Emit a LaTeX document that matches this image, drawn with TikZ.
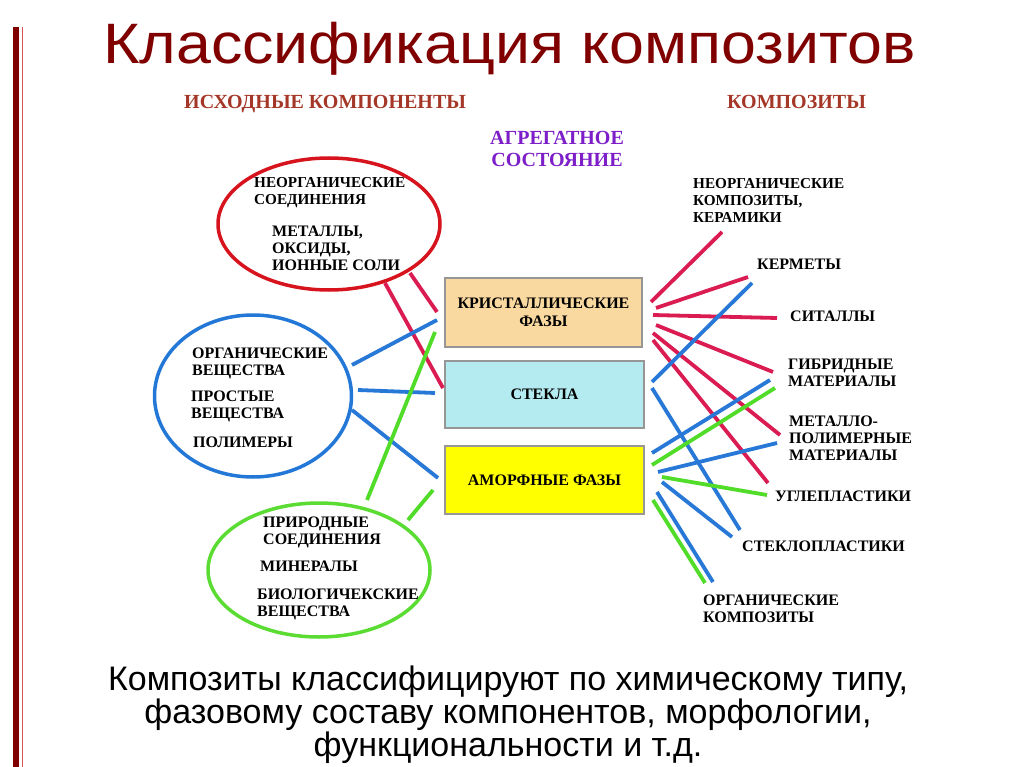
\documentclass[tikz,border=0pt]{standalone}
\usepackage{fontspec}
\setmainfont{Liberation Serif}
\newfontfamily\arialf{Liberation Sans}
\usetikzlibrary{shapes.geometric}
\definecolor{barred}{RGB}{128,0,0}
\definecolor{barpink}{RGB}{220,80,80}
\definecolor{titlered}{RGB}{128,0,0}
\definecolor{headbrown}{RGB}{165,55,40}
\definecolor{aggpurple}{RGB}{125,30,200}
\definecolor{lred}{RGB}{218,28,82}
\definecolor{lblue}{RGB}{40,120,215}
\definecolor{lgreen}{RGB}{80,220,40}
\definecolor{ered}{RGB}{215,20,30}
\definecolor{eblue}{RGB}{35,120,215}
\definecolor{egreen}{RGB}{90,220,50}
\definecolor{fillA}{RGB}{250,217,160}
\definecolor{fillB}{RGB}{180,235,240}
\definecolor{fillC}{RGB}{255,255,0}
\definecolor{boxgray}{RGB}{150,150,150}
\tikzset{
  lbl/.style={font=\fontsize{16}{17}\selectfont\bfseries, align=left, anchor=north west, inner sep=0pt, text=black},
  lblsm/.style={lbl, font=\fontsize{15.2}{17}\selectfont\bfseries},
  ell/.style={ellipse, draw, line width=3.5pt, inner sep=0pt},
  phase/.style={rectangle, draw=boxgray, line width=1.2pt, font=\fontsize{16}{18}\selectfont\bfseries, align=center, inner sep=0pt},
  conn/.style={line width=3.8pt},
  head/.style={font=\fontsize{20}{22}\selectfont\bfseries, text=headbrown, anchor=base west, inner sep=0pt},
}
\begin{document}
\begin{tikzpicture}[x=1pt,y=-1pt]
\useasboundingbox (0,0) rectangle (1024,767);
\fill[white] (0,0) rectangle (1024,767);
% left bars
\fill[barred] (13,27) rectangle (19,767);
\draw[barpink, line width=1pt] (22,27) -- (22,767);
% title
\node[anchor=base west, inner sep=0pt, text=titlered, font=\arialf\fontsize{57}{64}\selectfont] (title) at (103,64) {\scalebox{1.1}[1]{Классификация композитов}};
% headers
\node[head] (hsrc) at (184,108.5) {ИСХОДНЫЕ КОМПОНЕНТЫ};
\node[head] (hcomp) at (727,108.5) {КОМПОЗИТЫ};
\node[font=\fontsize{20}{22}\selectfont\bfseries, text=aggpurple, align=center, anchor=north, inner sep=0pt] (hagg) at (557,131.5) {АГРЕГАТНОЕ\\СОСТОЯНИЕ};
% ellipses
\node[ell, draw=ered, minimum width=222pt, minimum height=132pt] (einorg) at (329,224) {};
\node[ell, draw=eblue, minimum width=197pt, minimum height=162pt] (eorg) at (253,396) {};
\node[ell, draw=egreen, minimum width=222pt, minimum height=134pt] (enat) at (319,570) {};
% ellipse texts
\node[lblsm] (t1) at (254,177) {НЕОРГАНИЧЕСКИЕ\\СОЕДИНЕНИЯ};
\node[lbl] (t2) at (272,225.7) {МЕТАЛЛЫ,\\ОКСИДЫ,\\ИОННЫЕ СОЛИ};
\node[lbl] (t3) at (192,347.7) {ОРГАНИЧЕСКИЕ\\ВЕЩЕСТВА};
\node[lbl] (t4) at (191,391.2) {ПРОСТЫЕ\\ВЕЩЕСТВА};
\node[lbl] (t5) at (193,436.7) {ПОЛИМЕРЫ};
\node[lbl] (t6) at (263,517.2) {ПРИРОДНЫЕ\\СОЕДИНЕНИЯ};
\node[lbl] (t7) at (260,561.2) {МИНЕРАЛЫ};
\node[lbl] (t8) at (257,588.7) {БИОЛОГИЧЕКСКИЕ\\ВЕЩЕСТВА};
% phase boxes
\node[phase, fill=fillA, minimum width=197pt, minimum height=69pt] (cryst) at (543.5,312.5) {КРИСТАЛЛИЧЕСКИЕ\\ФАЗЫ};
\node[phase, fill=fillB, minimum width=199pt, minimum height=67pt] (glass) at (544.5,394.5) {СТЕКЛА};
\node[phase, fill=fillC, minimum width=199pt, minimum height=68pt] (amorph) at (544.5,480) {АМОРФНЫЕ ФАЗЫ};
% right labels
\node[lblsm] (c1) at (693,178) {НЕОРГАНИЧЕСКИЕ\\КОМПОЗИТЫ,\\КЕРАМИКИ};
\node[lbl] (c2) at (757,258.7) {КЕРМЕТЫ};
\node[lbl] (c3) at (790,311.2) {СИТАЛЛЫ};
\node[lbl] (c4) at (788,359.2) {ГИБРИДНЫЕ\\МАТЕРИАЛЫ};
\node[lbl] (c5) at (789,415.7) {МЕТАЛЛО-\\ПОЛИМЕРНЫЕ\\МАТЕРИАЛЫ};
\node[lbl] (c6) at (775,491.2) {УГЛЕПЛАСТИКИ};
\node[lbl] (c7) at (742,541.2) {СТЕКЛОПЛАСТИКИ};
\node[lbl] (c8) at (703,594.7) {ОРГАНИЧЕСКИЕ\\КОМПОЗИТЫ};
% connector end points
\coordinate (ra1) at (385,283); \coordinate (ra2) at (443,388);
\coordinate (rb1) at (410,273); \coordinate (rb2) at (437,312);
\coordinate (ba1) at (352,365); \coordinate (ba2) at (437,320);
\coordinate (bb1) at (358,390); \coordinate (bb2) at (435,393);
\coordinate (bc1) at (352,410); \coordinate (bc2) at (438,478);
\coordinate (ga1) at (435,332); \coordinate (ga2) at (367,500);
\coordinate (gb1) at (433,490); \coordinate (gb2) at (408,520);
\coordinate (R1a) at (651,302); \coordinate (R1b) at (722,232);
\coordinate (R2a) at (656,308); \coordinate (R2b) at (748,277);
\coordinate (R3a) at (653,315); \coordinate (R3b) at (777,318);
\coordinate (R4a) at (656,325); \coordinate (R4b) at (773,372);
\coordinate (R5a) at (653,333); \coordinate (R5b) at (780,435);
\coordinate (R6a) at (653,340); \coordinate (R6b) at (768,483);
\coordinate (B1a) at (652,382); \coordinate (B1b) at (752,283);
\coordinate (B2a) at (652,388); \coordinate (B2b) at (740,530);
\coordinate (B3a) at (652,453); \coordinate (B3b) at (770,380);
\coordinate (B4a) at (658,472); \coordinate (B4b) at (777,443);
\coordinate (B5a) at (662,482); \coordinate (B5b) at (732,537);
\coordinate (B6a) at (657,492); \coordinate (B6b) at (713,582);
\coordinate (G1a) at (652,465); \coordinate (G1b) at (775,388);
\coordinate (G2a) at (662,477); \coordinate (G2b) at (767,495);
\coordinate (G3a) at (653,500); \coordinate (G3b) at (705,583);
% left connectors
\draw[conn, lred] (ra1) -- (ra2);
\draw[conn, lred] (rb1) -- (rb2);
\draw[conn, lblue] (ba1) -- (ba2);
\draw[conn, lblue] (bb1) -- (bb2);
\draw[conn, lblue] (bc1) -- (bc2);
\draw[conn, lgreen] (ga1) -- (ga2);
\draw[conn, lgreen] (gb1) -- (gb2);
% right connectors
\draw[conn, lred] (R1a) -- (R1b);
\draw[conn, lred] (R2a) -- (R2b);
\draw[conn, lred] (R3a) -- (R3b);
\draw[conn, lred] (R4a) -- (R4b);
\draw[conn, lred] (R5a) -- (R5b);
\draw[conn, lred] (R6a) -- (R6b);
\draw[conn, lblue] (B1a) -- (B1b);
\draw[conn, lblue] (B2a) -- (B2b);
\draw[conn, lblue] (B3a) -- (B3b);
\draw[conn, lgreen] (G1a) -- (G1b);
\draw[conn, lblue] (B4a) -- (B4b);
\draw[conn, lgreen] (G2a) -- (G2b);
\draw[conn, lblue] (B5a) -- (B5b);
\draw[conn, lblue] (B6a) -- (B6b);
\draw[conn, lgreen] (G3a) -- (G3b);
% bottom text
\node[anchor=north, inner sep=0pt, align=center, font=\arialf\fontsize{34}{33}\selectfont] (foot) at (508,666) {Композиты классифицируют по химическому типу,\\фазовому составу компонентов, морфологии,\\функциональности и т.д.};
\end{tikzpicture}
\end{document}
